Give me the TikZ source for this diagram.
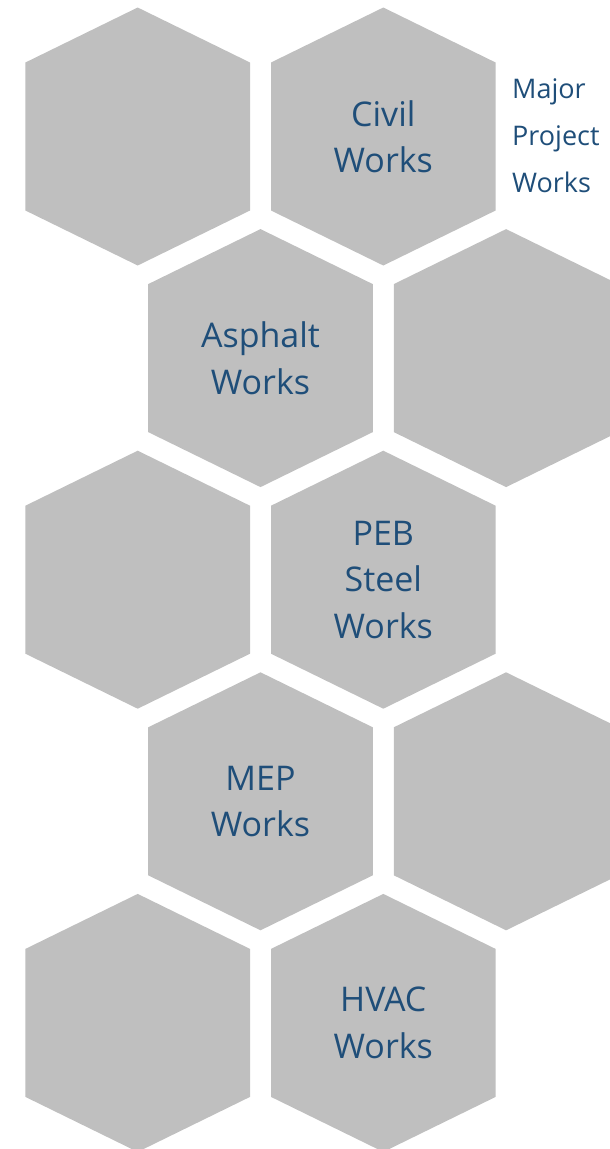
\documentclass[tikz,border=0pt]{standalone}
\usepackage{fontspec}
\setmainfont{Open Sans}
\usepackage{tikz}
\usetikzlibrary{positioning}

\definecolor{hexgray}{HTML}{BFBFBF}
\definecolor{lblblue}{HTML}{1F4E79}

\tikzset{
  hexcell/.pic={\fill[hexgray] (-112.3,-74) -- (0,-129) -- (112.3,-74) -- (112.3,74) -- (0,129) -- (-112.3,74) -- cycle;},
  lbl/.style={text=lblblue, align=center, inner sep=0pt, font=\fontsize{34}{46.5}\selectfont},
  side/.style={text=lblblue, align=left, inner sep=0pt, font=\fontsize{27}{47}\selectfont}
}

\begin{document}
\begin{tikzpicture}[x=1pt, y=-1pt]
\useasboundingbox (0,0) rectangle (610,1149);
\clip (0,0) rectangle (610,1149);
\pic at (137.7,136.5) {hexcell};
\pic at (383.3,136.5) {hexcell};
\pic at (260.5,358.1) {hexcell};
\pic at (506.1,358.1) {hexcell};
\pic at (137.7,579.7) {hexcell};
\pic at (383.3,579.7) {hexcell};
\pic at (260.5,801.3) {hexcell};
\pic at (506.1,801.3) {hexcell};
\pic at (137.7,1022.9) {hexcell};
\pic at (383.3,1022.9) {hexcell};
\node (civil) at (383.3,136.5) [lbl] {Civil\\Works};
\node (major) at (512,136) [side, anchor=west] {Major\\Project\\Works};
\node (asphalt) at (260.5,358.1) [lbl] {Asphalt\\Works};
\node (peb) at (383.3,579.7) [lbl] {PEB\\Steel\\Works};
\node (mep) at (260.5,801.3) [lbl] {MEP\\Works};
\node (hvac) at (383.3,1022.9) [lbl] {HVAC\\Works};
\end{tikzpicture}
\end{document}
